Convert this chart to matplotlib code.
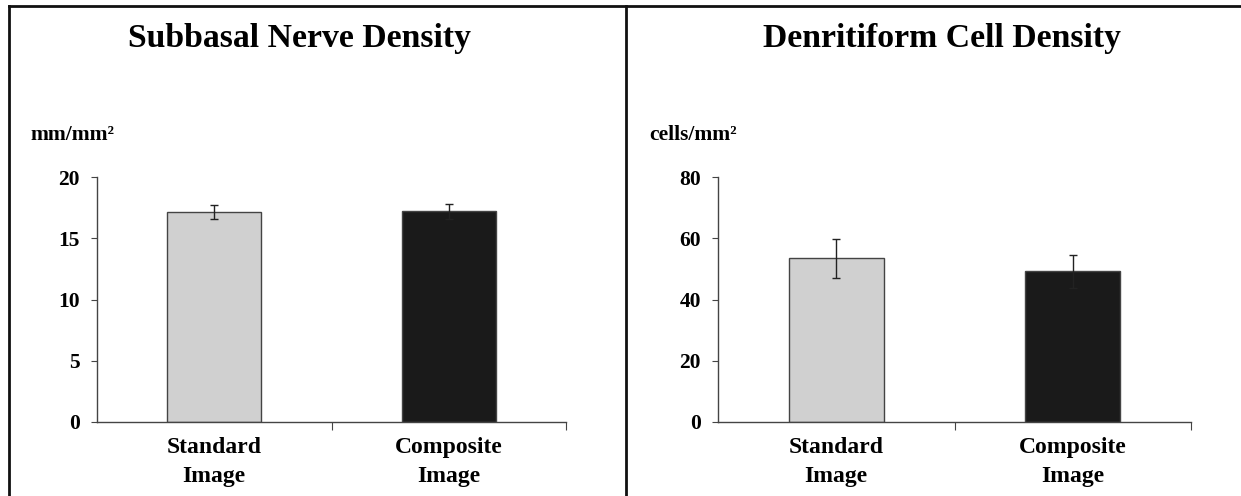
import matplotlib.pyplot as plt
from matplotlib.lines import Line2D

categories = ['Standard\nImage', 'Composite\nImage']
nerve_density = [17.15, 17.2]
nerve_err = [0.6, 0.6]
cell_density = [53.4, 49.2]
cell_err = [6.3, 5.3]
bar_colors = ['#d0d0d0', '#1a1a1a']

plt.rcParams['font.family'] = ['Liberation Serif', 'DejaVu Serif']
plt.rcParams['font.weight'] = 'bold'

fig = plt.figure(figsize=(12.41, 4.96), dpi=100)


def draw_panel(ax, values, errors, ymax, step, unit):
    x = range(len(categories))
    ax.bar(x, values, width=0.4, color=bar_colors, edgecolor='#444444',
           linewidth=1, zorder=2)
    ax.errorbar(x, values, yerr=errors, fmt='none', ecolor='#222222',
                elinewidth=1, capsize=3, capthick=1, zorder=3)
    ax.set_xlim(-0.5, 1.5)
    ax.set_ylim(0, ymax)
    ax.set_yticks(range(0, ymax + 1, step))
    ax.set_xticks([0.5, 1.5])
    ax.set_xticklabels([])
    ax.set_xticks([0, 1], minor=True)
    ax.set_xticklabels(categories, minor=True, fontsize=17, fontweight='bold',
                       linespacing=1.5)
    ax.tick_params(axis='x', which='minor', length=0, pad=11)
    ax.tick_params(axis='x', which='major', length=6, direction='out',
                   color='#444444')
    ax.tick_params(axis='y', length=4.3, direction='out', labelsize=15.5,
                   color='#444444', pad=8)
    for lab in ax.get_yticklabels():
        lab.set_fontweight('bold')
    for side in ['top', 'right']:
        ax.spines[side].set_visible(False)
    for side in ['left', 'bottom']:
        ax.spines[side].set_color('#444444')
        ax.spines[side].set_linewidth(1)
    ax.text(-0.052, 1.17, unit, transform=ax.transAxes, fontsize=15.5,
            fontweight='bold', ha='center', va='center')


ax1 = fig.add_axes([0.0782, 0.1492, 0.3779, 0.4939])
draw_panel(ax1, nerve_density, nerve_err, 20, 5, 'mm/mm²')

ax2 = fig.add_axes([0.5786, 0.1492, 0.3811, 0.4939])
draw_panel(ax2, cell_density, cell_err, 80, 20, 'cells/mm²')

fig.text(299 / 1241, 1 - 47 / 496, 'Subbasal Nerve Density', fontsize=24.3,
         fontweight='bold', ha='center', va='baseline')
fig.text(942 / 1241, 1 - 47 / 496, 'Denritiform Cell Density', fontsize=24.3,
         fontweight='bold', ha='center', va='baseline')

# panel border lines
x_left = 9 / 1241
x_mid = 626 / 1241
y_top = 1 - 6 / 496
for line in [Line2D([x_left, 1], [y_top, y_top]),
             Line2D([x_left, x_left], [0, y_top]),
             Line2D([x_mid, x_mid], [0, y_top])]:
    line.set_color('#111111')
    line.set_linewidth(2)
    line.set_transform(fig.transFigure)
    fig.add_artist(line)

fig.savefig('out.png', dpi=100)
